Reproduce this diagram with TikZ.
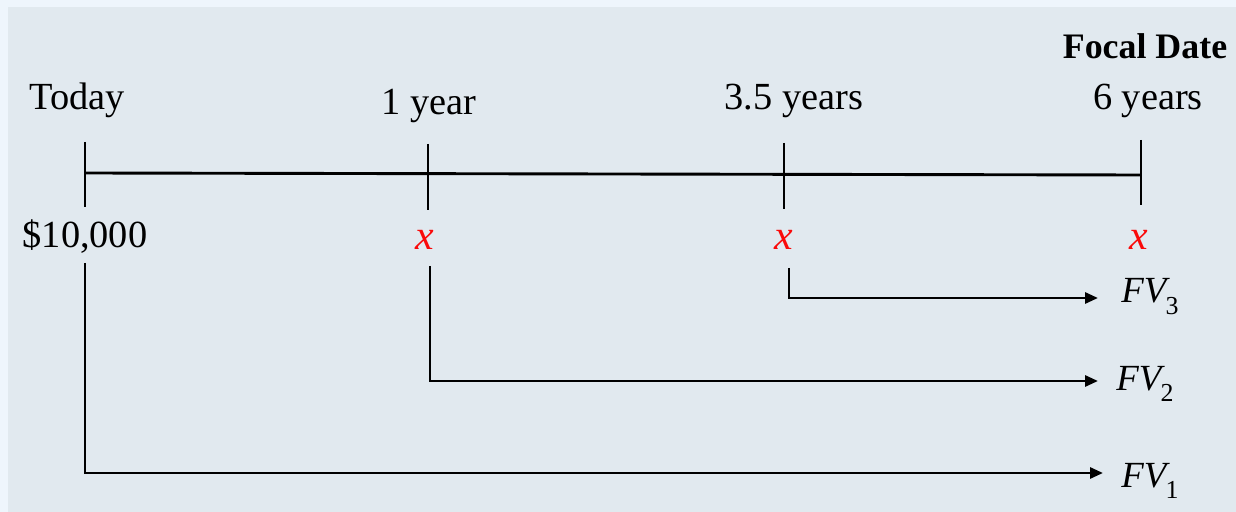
\documentclass[tikz,border=0pt]{standalone}
\usepackage{fontspec}
\setmainfont{Liberation Serif}
\usetikzlibrary{arrows.meta}
\definecolor{outerbg}{RGB}{238,245,252}
\definecolor{panelbg}{RGB}{225,233,239}
\definecolor{xred}{RGB}{250,10,10}
\newcommand{\fvsub}[1]{\textit{FV}\kern-0.12em\raisebox{-0.3em}{\fontsize{26}{26}\selectfont #1}}
\begin{document}
\begin{tikzpicture}[x=1bp,y=-1bp,line width=2.9bp,
  lbl/.style={font=\fontsize{38.5}{40}\selectfont,anchor=base,inner sep=0pt},
  boldlbl/.style={font=\fontsize{36}{40}\selectfont\bfseries,anchor=base,inner sep=0pt},
  xlbl/.style={font=\fontsize{42}{44}\selectfont\itshape,text=xred,anchor=base,inner sep=0pt},
  fvlbl/.style={font=\fontsize{37}{40}\selectfont,anchor=base west,inner sep=0pt},
  arr/.style={-{Triangle[length=13bp,width=11bp]}}]
\fill[outerbg] (0,0) rectangle (1236,512);
\fill[panelbg] (8,7) rectangle (1236,512);
\useasboundingbox (0,0) rectangle (1236,512);
% time line
\coordinate (t0) at (85,173);
\coordinate (t3) at (1141,175);
\coordinate (t0a) at (85,142);  \coordinate (t0b) at (85,207);
\coordinate (t1a) at (428,144); \coordinate (t1b) at (428,210);
\coordinate (t2a) at (784,143); \coordinate (t2b) at (784,209);
\coordinate (t3a) at (1141,140);\coordinate (t3b) at (1141,205);
\draw (t0) -- (t3);
\draw (t0a) -- (t0b);
\draw (t1a) -- (t1b);
\draw (t2a) -- (t2b);
\draw (t3a) -- (t3b);
% labels
\node[lbl] (today) at (77,110) {Today};
\node[lbl] (y1) at (429,115) {1 year};
\node[lbl] (y35) at (794,110) {3.5 years};
\node[lbl] (y6) at (1148,110) {6 years};
\node[boldlbl] (focal) at (1145,59) {Focal Date};
\node[lbl] (pv) at (85,248) {\$10,000};
\node[xlbl] (x1) at (425,250) {x};
\node[xlbl] (x2) at (784,250) {x};
\node[xlbl] (x3) at (1139,250) {x};
% future value arrows
\coordinate (s3) at (789,268);
\coordinate (s2) at (430,266);
\coordinate (s1) at (85,263);
\coordinate (e3) at (1098,298);
\coordinate (e2) at (1098,381);
\coordinate (e1) at (1103,473);
\draw[arr] (s3) |- (e3);
\draw[arr] (s2) |- (e2);
\draw[arr] (s1) |- (e1);
\node[fvlbl] (fv3) at (1120,303) {\fvsub{3}};
\node[fvlbl] (fv2) at (1115,390) {\fvsub{2}};
\node[fvlbl] (fv1) at (1120,487) {\fvsub{1}};
\end{tikzpicture}
\end{document}
